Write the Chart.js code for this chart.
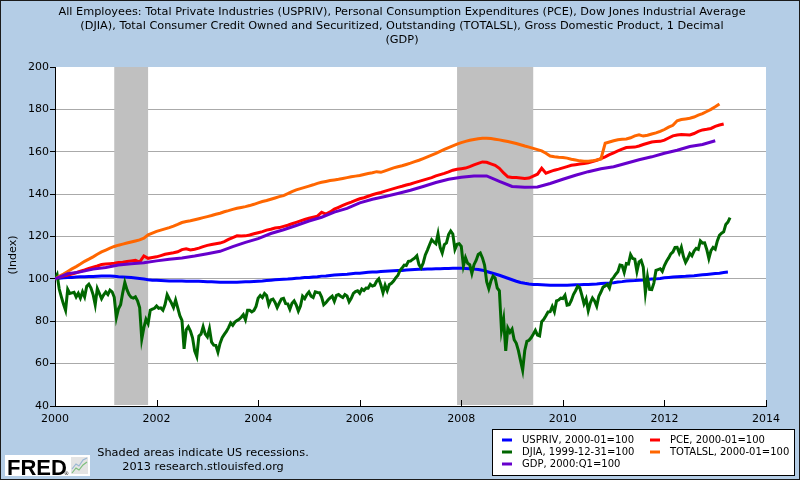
<!DOCTYPE html>
<html><head><meta charset="utf-8">
<script src="https://cdn.jsdelivr.net/npm/chart.js@4"></script>
<style>html,body{margin:0;padding:0;background:#B4CDE6;}canvas{display:block}</style>
</head><body>
<canvas id="c" width="800" height="480"></canvas>
<script>
const titleLines = [
  "All Employees: Total Private Industries (USPRIV), Personal Consumption Expenditures (PCE), Dow Jones Industrial Average",
  "(DJIA), Total Consumer Credit Owned and Securitized, Outstanding (TOTALSL), Gross Domestic Product, 1 Decimal",
  "(GDP)"
];
const yAxisTitle = "(Index)";
const footerLines = ["Shaded areas indicate US recessions.", "2013 research.stlouisfed.org"];
const seriesLabels = ["USPRIV, 2000-01=100", "PCE, 2000-01=100", "DJIA, 1999-12-31=100", "TOTALSL, 2000-01=100", "GDP, 2000:Q1=100"];
const seriesColors = ["#0000FF", "#FF0000", "#006600", "#FF6600", "#6600CC"];
const recessionStarts = ["2001-03", "2007-12"];
const recessionEnds = ["2001-11", "2009-06"];
const xTickValues = [2000, 2002, 2004, 2006, 2008, 2010, 2012, 2014];

// monthly, from 2000-01
const usprivMonthly = [
 100.0,100.3,100.5,100.7,100.7,100.9,101.0,101.0,101.1,101.1,101.2,101.3,
 101.3,101.3,101.2,101.0,100.9,100.8,100.6,100.4,100.2,99.9,99.6,99.4,
 99.3,99.2,99.1,99.0,99.0,99.0,99.0,98.9,98.9,98.9,98.9,98.8,
 98.7,98.6,98.5,98.4,98.4,98.4,98.4,98.4,98.5,98.6,98.7,98.8,
 98.9,99.0,99.2,99.4,99.6,99.7,99.8,99.9,100.1,100.3,100.4,100.6,
 100.7,100.9,101.0,101.3,101.4,101.6,101.8,102.0,102.1,102.2,102.4,102.6,
 102.7,102.9,103.1,103.2,103.3,103.5,103.6,103.7,103.8,103.9,104.0,104.2,
 104.3,104.4,104.5,104.6,104.7,104.7,104.8,104.8,104.9,104.9,105.0,105.0,
 105.0,104.9,104.8,104.6,104.4,104.1,103.5,102.9,102.3,101.7,101.0,100.3,
 99.6,98.9,98.3,97.9,97.6,97.4,97.3,97.2,97.1,97.0,97.0,97.0,
 97.0,97.0,97.1,97.2,97.2,97.3,97.4,97.5,97.6,97.8,97.9,98.0,
 98.2,98.5,98.7,99.0,99.1,99.2,99.4,99.5,99.7,99.9,100.0,100.2,
 100.5,100.7,100.9,101.0,101.1,101.2,101.4,101.5,101.7,101.9,102.1,102.3,
 102.5,102.7,103.0,103.2
];
const pceMonthly = [
 100.0,100.7,101.3,101.8,102.3,102.9,103.6,104.2,104.9,105.5,106.1,106.8,
 107.0,107.2,107.4,107.7,107.9,108.2,108.5,108.8,107.9,110.8,109.7,110.1,
 110.4,111.0,111.6,112.0,112.3,112.8,113.8,114.2,113.6,114.0,114.5,115.2,
 115.8,116.2,116.6,116.9,117.6,118.6,119.5,120.3,120.2,120.3,120.7,121.3,
 121.8,122.3,123.0,123.4,124.0,124.2,124.8,125.3,126.0,126.7,127.4,128.0,
 128.6,129.1,129.6,131.4,130.6,131.6,132.9,133.8,134.7,135.5,136.2,137.0,
 137.8,138.3,139.0,139.7,140.3,140.8,141.4,142.0,142.6,143.2,143.7,144.3,
 144.8,145.4,146.0,146.6,147.2,147.8,148.6,149.2,149.8,150.5,151.3,151.7,
 152.0,152.3,153.0,153.8,154.5,155.2,155.0,154.3,153.6,152.2,150.0,148.2,
 147.9,147.8,147.6,147.4,147.6,148.5,149.4,152.2,149.9,150.6,151.3,151.8,
 152.4,153.0,153.6,153.9,154.2,154.5,154.8,155.4,156.0,156.8,157.6,158.6,
 159.5,160.4,161.2,162.0,162.1,162.2,162.7,163.4,164.0,164.6,164.8,164.9,
 165.5,166.5,167.5,167.9,168.1,168.0,167.9,168.6,169.6,170.3,170.6,171.0,
 172.0,172.6,173.1
];
const totalslMonthly = [
 100.0,101.2,102.3,103.5,104.7,105.8,107.0,108.3,109.3,110.4,111.6,112.7,
 113.6,114.5,115.3,115.9,116.4,116.9,117.4,117.9,118.4,119.2,120.8,121.6,
 122.4,123.0,123.6,124.2,124.9,125.7,126.6,127.1,127.4,127.9,128.4,128.9,
 129.4,129.9,130.5,131.0,131.7,132.2,132.8,133.3,133.7,134.1,134.6,135.2,
 135.9,136.5,137.0,137.6,138.2,138.8,139.3,140.2,141.2,142.0,142.6,143.2,
 143.8,144.4,145.1,145.6,146.0,146.4,146.7,147.0,147.4,147.8,148.2,148.5,
 148.8,149.3,149.7,150.1,150.6,150.3,151.0,151.7,152.4,152.9,153.4,154.0,
 154.6,155.3,156.0,156.8,157.6,158.4,159.2,160.2,161.1,162.0,162.8,163.6,
 164.3,164.9,165.4,165.8,166.1,166.4,166.4,166.2,165.9,165.6,165.2,164.8,
 164.4,163.9,163.3,162.7,162.2,161.6,161.0,160.4,159.3,158.0,157.6,157.4,
 157.3,157.0,156.5,156.1,155.7,155.5,155.5,155.7,156.1,156.6,164.0,164.6,
 165.2,165.7,165.9,166.0,166.6,167.5,168.0,167.4,167.8,168.4,168.9,169.6,
 170.5,171.6,172.5,174.6,175.2,175.5,175.8,176.4,177.3,178.0,179.0,180.0,
 181.2,182.5
];
// quarterly, from 2000:Q1
const gdpQuarterly = [
 100.0,102.4,103.3,104.6, 105.4,106.5,107.1,107.6, 108.5,109.3,109.9,110.8,
 111.9,113.0,115.2,117.2, 119.0,121.4,123.2,125.2, 127.3,129.1,131.5,133.3,
 135.9,137.6,138.9,140.3, 141.8,143.6,145.5,147.0, 148.0,148.5,148.6,146.0,
 143.6,143.2,143.4,145.0, 147.0,148.9,150.6,152.0, 152.9,154.6,156.2,157.6,
 159.3,160.7,162.5,163.4, 165.2
];
// half-monthly, from 1999-12-31 (=100)
const djiaHalfMonthly = [
 100.0,
 102.0,95.2,91.5,88.1,85.2,95.0,93.1,93.4,93.7,91.5,93.2,90.9,93.9,91.5,96.5,97.5,95.7,92.6,87.8,95.4,93.1,90.6,92.5,93.8,
 92.6,94.7,93.9,91.3,81.7,85.9,87.8,93.4,98.3,94.9,92.6,91.3,90.9,91.5,89.6,86.5,71.6,77.0,80.9,78.9,85.2,85.7,86.1,87.2,
 86.1,86.3,85.2,87.9,92.5,90.5,88.7,86.5,90.0,86.3,82.6,80.4,67.0,76.0,77.4,75.4,72.2,66.0,63.4,73.0,73.9,77.4,73.9,72.6,
 76.5,70.1,68.7,68.6,65.4,69.5,72.2,73.8,75.2,77.0,79.2,78.1,79.6,80.3,80.9,81.9,83.1,80.7,85.2,85.2,84.4,85.1,87.0,90.9,
 92.2,91.2,93.1,92.1,87.8,90.1,90.5,88.9,86.5,88.6,90.5,90.8,88.3,88.2,85.7,88.5,89.6,87.7,84.8,87.2,91.8,90.7,92.6,93.8,
 91.8,91.2,93.9,93.6,93.5,91.4,87.8,88.7,90.0,91.0,91.8,89.4,92.2,92.6,91.8,91.2,92.6,91.9,89.2,90.8,93.1,94.0,94.4,93.2,
 95.2,94.5,95.7,95.6,97.4,96.6,97.0,98.9,100.0,97.1,93.5,97.0,94.4,97.3,97.9,99.0,100.5,101.6,103.9,105.1,106.5,106.3,108.3,108.4,
 109.2,109.8,110.9,106.7,105.2,107.5,111.3,113.6,116.1,118.5,117.4,116.6,121.3,114.9,112.2,116.2,117.0,120.9,122.6,121.2,113.9,116.3,116.6,115.4,
 106.1,110.0,107.4,106.7,102.6,106.7,108.7,111.5,112.2,109.9,106.5,98.7,95.4,99.0,101.3,100.4,95.7,94.4,75.7,81.1,66.0,76.8,74.8,76.3,
 71.3,69.6,66.1,61.4,56.9,66.2,70.5,71.0,72.2,73.9,75.7,73.5,73.1,79.8,80.9,82.6,84.4,84.5,87.0,84.5,89.6,90.0,90.9,90.7,
 92.2,87.6,87.8,89.8,92.6,94.4,96.5,95.8,92.2,88.2,90.5,85.0,88.7,91.0,89.6,87.1,91.8,93.8,96.1,96.7,97.4,95.7,99.6,100.7,
 102.2,103.4,106.5,106.3,103.1,107.2,107.0,111.4,109.6,109.3,103.5,108.0,108.7,105.6,93.5,101.0,95.0,94.9,98.0,104.0,104.4,104.8,103.5,106.3,
 108.3,109.9,111.8,112.7,114.8,114.9,112.2,114.9,110.5,107.8,109.6,112.0,110.9,113.1,114.4,113.9,117.9,116.9,117.0,113.9,109.6,113.3,114.8,114.0,
 117.9,120.6,121.6,122.2,125.7,126.8,128.9
];

const FONT = '"DejaVu Sans", Verdana, sans-serif';
function ym(s){ const p = s.split('-').map(Number); return p[0] + (p[1]-1)/12; }
const toPts = (arr, perYear) => arr.map((v,i) => ({x: 2000 + i/perYear, y: v}));

const seriesData = [toPts(usprivMonthly,12), toPts(pceMonthly,12), toPts(djiaHalfMonthly,24), toPts(totalslMonthly,12), toPts(gdpQuarterly,4)];

const framePlugin = {
  id:'frame',
  beforeDraw(chart){
    const c = chart.ctx, a = chart.chartArea;
    c.save();
    c.fillStyle = '#B4CDE6'; c.fillRect(0,0,chart.width,chart.height);
    c.fillStyle = '#FFFFFF'; c.fillRect(a.left, a.top, a.right-a.left, a.bottom-a.top);
    c.restore();
  },
  beforeDatasetsDraw(chart){
    const c = chart.ctx, a = chart.chartArea, xs = chart.scales.x;
    c.save();
    c.fillStyle = '#C0C0C0';
    for (let i=0;i<recessionStarts.length;i++){
      const x0 = xs.getPixelForValue(ym(recessionStarts[i]));
      const x1 = xs.getPixelForValue(ym(recessionEnds[i]));
      c.fillRect(x0, a.top, x1-x0, a.bottom-a.top-1);
    }
    c.restore();
  },
  afterDraw(chart){
    const c = chart.ctx, a = chart.chartArea, xs = chart.scales.x;
    c.save();
    // x ticks pointing up
    c.strokeStyle = '#000'; c.lineWidth = 1;
    xTickValues.forEach(v => {
      const px = Math.round(xs.getPixelForValue(v)) + 0.5;
      c.beginPath(); c.moveTo(px, a.bottom); c.lineTo(px, a.bottom-6); c.stroke();
    });
    // title
    c.fillStyle = '#000'; c.textAlign = 'center'; c.textBaseline = 'middle';
    c.font = '11.3px ' + FONT;
    titleLines.forEach((t,i) => c.fillText(t, 402, 12 + i*14));
    // y axis title
    c.save(); c.translate(13, 255); c.rotate(-Math.PI/2);
    c.font = '11px ' + FONT; c.fillText(yAxisTitle, 0, 0); c.restore();
    // footer
    c.font = '11.3px ' + FONT;
    c.fillText(footerLines[0], 203, 453);
    c.fillText(footerLines[1], 203, 467);
    // FRED logo
    c.fillStyle = '#FFFFFF'; c.fillRect(5, 455, 85, 21);
    c.fillStyle = '#000'; c.textAlign = 'left'; c.textBaseline = 'alphabetic';
    c.font = 'bold 22px "Liberation Sans", Arial, sans-serif';
    c.fillText('FRED', 7, 475);
    c.font = '5px ' + FONT; c.fillText('\u00AE', 64, 475);
    c.fillStyle = '#E4E4E4'; c.fillRect(71, 457, 17, 17);
    c.strokeStyle = '#9AB7D3'; c.lineWidth = 1.2;
    c.beginPath(); c.moveTo(72,469); c.lineTo(76,464); c.lineTo(79,466); c.lineTo(83,460); c.lineTo(87,458); c.stroke();
    c.strokeStyle = '#7DBF7D';
    c.beginPath(); c.moveTo(72,473); c.lineTo(76,468); c.lineTo(79,470); c.lineTo(83,465); c.lineTo(87,462); c.stroke();
    // legend box
    c.fillStyle = '#FFFFFF'; c.fillRect(492, 429, 303, 47);
    c.strokeStyle = '#000'; c.lineWidth = 1; c.strokeRect(492.5, 429.5, 302, 46);
    const pos = [[502,440],[650,440],[502,452],[650,452],[502,464]];
    c.font = '10px ' + FONT; c.textBaseline = 'middle';
    seriesLabels.forEach((lab,k) => {
      const p = pos[k];
      c.strokeStyle = seriesColors[k]; c.lineWidth = 3;
      c.beginPath(); c.moveTo(p[0], p[1]); c.lineTo(p[0]+10, p[1]); c.stroke();
      c.fillStyle = '#000'; c.fillText(lab, p[0]+20, p[1]);
    });
    // outer border
    c.strokeStyle = '#1A1A1A'; c.lineWidth = 1; c.strokeRect(0.5, 0.5, chart.width-1, chart.height-1);
    c.restore();
  }
};

new Chart(document.getElementById('c'), {
  type: 'line',
  data: {
    datasets: seriesLabels.map((lab, i) => ({
      label: lab,
      data: seriesData[i],
      borderColor: seriesColors[i],
      backgroundColor: seriesColors[i],
      borderWidth: 3,
      pointRadius: 0,
      fill: false,
      tension: 0,
      order: 5 - i
    }))
  },
  options: {
    responsive: false,
    animation: false,
    devicePixelRatio: 1,
    layout: { padding: { top: 67, right: 34, left: 0, bottom: 0 } },
    plugins: { legend: { display: false }, title: { display: false }, tooltip: { enabled: false } },
    scales: {
      x: {
        type: 'linear', min: 2000, max: 2014,
        afterFit(s){ s.height = 74; },
        afterBuildTicks(s){ s.ticks = xTickValues.map(v => ({value: v})); },
        ticks: { callback: v => String(v), font: { size: 11, family: FONT }, color: '#000', padding: 7, maxRotation: 0, autoSkip: false },
        grid: { drawOnChartArea: false, drawTicks: false },
        border: { display: true, color: '#000', width: 1 }
      },
      y: {
        min: 40, max: 200,
        afterFit(s){ s.width = 55; },
        ticks: { stepSize: 20, font: { size: 11, family: FONT }, color: '#000', padding: 1 },
        grid: {
          color: ctx => (ctx.tick && (ctx.tick.value === 200 || ctx.tick.value === 40)) ? 'rgba(0,0,0,0)' : '#AAAAAA',
          tickColor: '#000', tickLength: 5, lineWidth: 1
        },
        border: { display: true, color: '#000', width: 1 }
      }
    }
  },
  plugins: [framePlugin]
});
</script>
</body></html>
